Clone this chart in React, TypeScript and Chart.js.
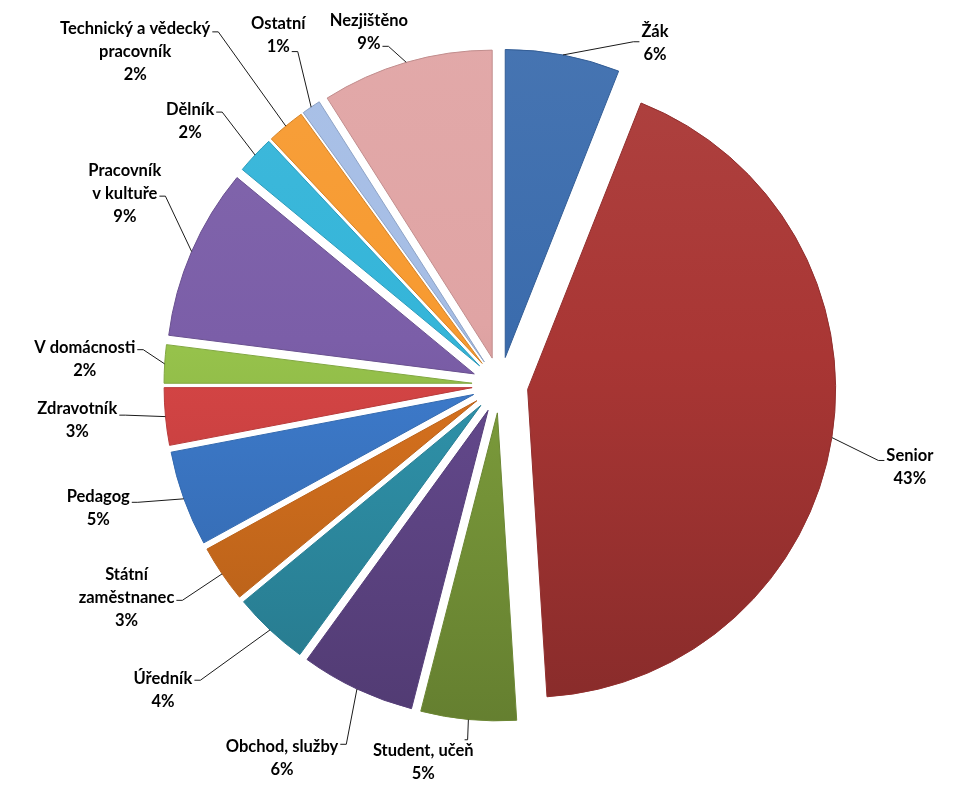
import React, { useEffect, useRef } from 'react';
import { Chart, registerables } from 'chart.js';

Chart.register(...registerables);

// ---- data ----
const categories: string[] = [
  'Žák',
  'Senior',
  'Student, učeň',
  'Obchod, služby',
  'Úředník',
  'Státní zaměstnanec',
  'Pedagog',
  'Zdravotník',
  'V domácnosti',
  'Pracovník v kultuře',
  'Dělník',
  'Technický a vědecký pracovník',
  'Ostatní',
  'Nezjištěno',
];
const values: number[] = [6, 43, 5, 6, 4, 3, 5, 3, 2, 9, 2, 2, 1, 9];
// category names as wrapped in the picture
const labelLines: string[][] = [
  ['Žák'],
  ['Senior'],
  ['Student, učeň'],
  ['Obchod, služby'],
  ['Úředník'],
  ['Státní', 'zaměstnanec'],
  ['Pedagog'],
  ['Zdravotník'],
  ['V domácnosti'],
  ['Pracovník', 'v kultuře'],
  ['Dělník'],
  ['Technický a vědecký', 'pracovník'],
  ['Ostatní'],
  ['Nezjištěno'],
];

// ---- styles / layout ----
const sliceColors: string[] = [
  '#3b6cad',
  '#a93634',
  '#7c9c3b',
  '#64498d',
  '#2f93ab',
  '#d8721e',
  '#3d7bcc',
  '#d64545',
  '#96c24b',
  '#7b5ea8',
  '#34b5d9',
  '#f79a30',
  '#a5bde5',
  '#e0a4a4',
];
// label placement: [angle from 12 o'clock (deg), distance / radius, leader side, anchor line]
const labelLayout: [number, number, 'l' | 'r' | 't', number][] = [
  [24.4, 1.218, 'l', 0.43],
  [101.3, 1.357, 'l', 0.22],
  [191.5, 1.25, 't', 0],
  [210.3, 1.403, 'r', -0.1],
  [227.8, 1.477, 'r', 0.05],
  [240.3, 1.396, 'r', 1.1],
  [253.0, 1.364, 'r', 0.26],
  [265.3, 1.377, 'r', 0.3],
  [273.6, 1.351, 'r', 0.1],
  [297.0, 1.367, 'r', 1.1],
  [310.4, 1.321, 'r', 0.1],
  [312.4, 1.604, 'r', 0.13],
  [327.6, 1.344, 'r', 1.2],
  [339.6, 1.221, 'r', 1.1],
];
const EXPLODE = 28;
const RADIUS = 308;
const LINE_H = 23;
const FONT = 'bold 16.5px Lato';

function shade(hex: string, f: number): string {
  const n = parseInt(hex.slice(1), 16);
  let r = (n >> 16) & 255, g = (n >> 8) & 255, b = n & 255;
  if (f >= 1) {
    const t = f - 1;
    r = r + (255 - r) * t; g = g + (255 - g) * t; b = b + (255 - b) * t;
  } else {
    r *= f; g *= f; b *= f;
  }
  return `rgb(${Math.round(r)},${Math.round(g)},${Math.round(b)})`;
}

const explodePlugin = {
  id: 'explodeSlices',
  beforeDatasetDraw(chart: any, args: any) {
    const ctx = chart.ctx;
    args.meta.data.forEach((arc: any) => {
      const mid = (arc.startAngle + arc.endAngle) / 2;
      ctx.save();
      ctx.translate(Math.cos(mid) * EXPLODE, Math.sin(mid) * EXPLODE);
      arc.draw(ctx, chart.chartArea);
      ctx.restore();
    });
    return false;
  },
};

const labelPlugin = {
  id: 'pieLabels',
  afterDatasetsDraw(chart: any) {
    const meta = chart.getDatasetMeta(0);
    const ctx = chart.ctx;
    const total = values.reduce((a, b) => a + b, 0);
    ctx.save();
    ctx.font = FONT;
    ctx.textAlign = 'center';
    ctx.textBaseline = 'middle';
    ctx.fillStyle = '#000';
    ctx.strokeStyle = '#1a1a1a';
    ctx.lineWidth = 1;
    meta.data.forEach((arc: any, i: number) => {
      const { x, y, startAngle, endAngle, outerRadius } = arc;
      const mid = (startAngle + endAngle) / 2;
      const sx = x + Math.cos(mid) * (outerRadius + EXPLODE);
      const sy = y + Math.sin(mid) * (outerRadius + EXPLODE);
      const [angDeg, dist, side, f] = labelLayout[i];
      const a = ((angDeg - 90) * Math.PI) / 180;
      const bx = x + Math.cos(a) * dist * outerRadius;
      const by = y + Math.sin(a) * dist * outerRadius;
      const lines = [...labelLines[i], Math.round((values[i] / total) * 100) + '%'];
      const n = lines.length;
      const y0 = by - ((n - 1) / 2) * LINE_H;
      const li = Math.min(n - 1, Math.max(0, Math.round(f)));
      const w = ctx.measureText(lines[li]).width;
      let ax: number, ay: number, ex: number, ey: number;
      if (side === 'l') {
        ax = bx - w / 2 - 2; ay = y0 + f * LINE_H; ex = ax - 6; ey = ay;
      } else if (side === 'r') {
        ax = bx + w / 2 + 2; ay = y0 + f * LINE_H; ex = ax + 6; ey = ay;
      } else {
        ax = bx + w / 2 - 9; ay = y0 - 11; ex = ax + 3; ey = ay;
      }
      ctx.beginPath();
      ctx.moveTo(sx, sy);
      ctx.lineTo(ex, ey);
      ctx.lineTo(ax, ay);
      ctx.stroke();
      lines.forEach((t, k) => ctx.fillText(t, bx, y0 + k * LINE_H));
    });
    ctx.restore();
  },
};

export default function App() {
  const ref = useRef<HTMLCanvasElement | null>(null);
  useEffect(() => {
    if (!ref.current) return;
    const chart = new Chart(ref.current, {
      type: 'pie',
      data: {
        labels: categories,
        datasets: [
          {
            data: values,
            backgroundColor: (c: any) => {
              const base = sliceColors[c.dataIndex];
              const area = c.chart.chartArea;
              if (!area) return base;
              const cy = (area.top + area.bottom) / 2;
              const g = c.chart.ctx.createLinearGradient(0, cy - RADIUS - EXPLODE, 0, cy + RADIUS + EXPLODE);
              g.addColorStop(0, shade(base, 1.06));
              g.addColorStop(0.45, base);
              g.addColorStop(1, shade(base, 0.8));
              return g;
            },
            borderColor: sliceColors.map((c) => shade(c, 0.86)),
            borderWidth: 1,
            offset: 0,
          },
        ],
      },
      options: {
        animation: false,
        responsive: true,
        maintainAspectRatio: false,
        radius: RADIUS,
        layout: { padding: { left: 28, right: 0, top: 0, bottom: 21 } },
        plugins: {
          legend: { display: false },
          tooltip: { enabled: false },
        },
      } as any,
      plugins: [explodePlugin, labelPlugin],
    });
    return () => chart.destroy();
  }, []);
  return (
    <div style={{ position: 'absolute', left: 0, top: 0, width: 972, height: 791, background: '#fff' }}>
      <canvas ref={ref} />
    </div>
  );
}
